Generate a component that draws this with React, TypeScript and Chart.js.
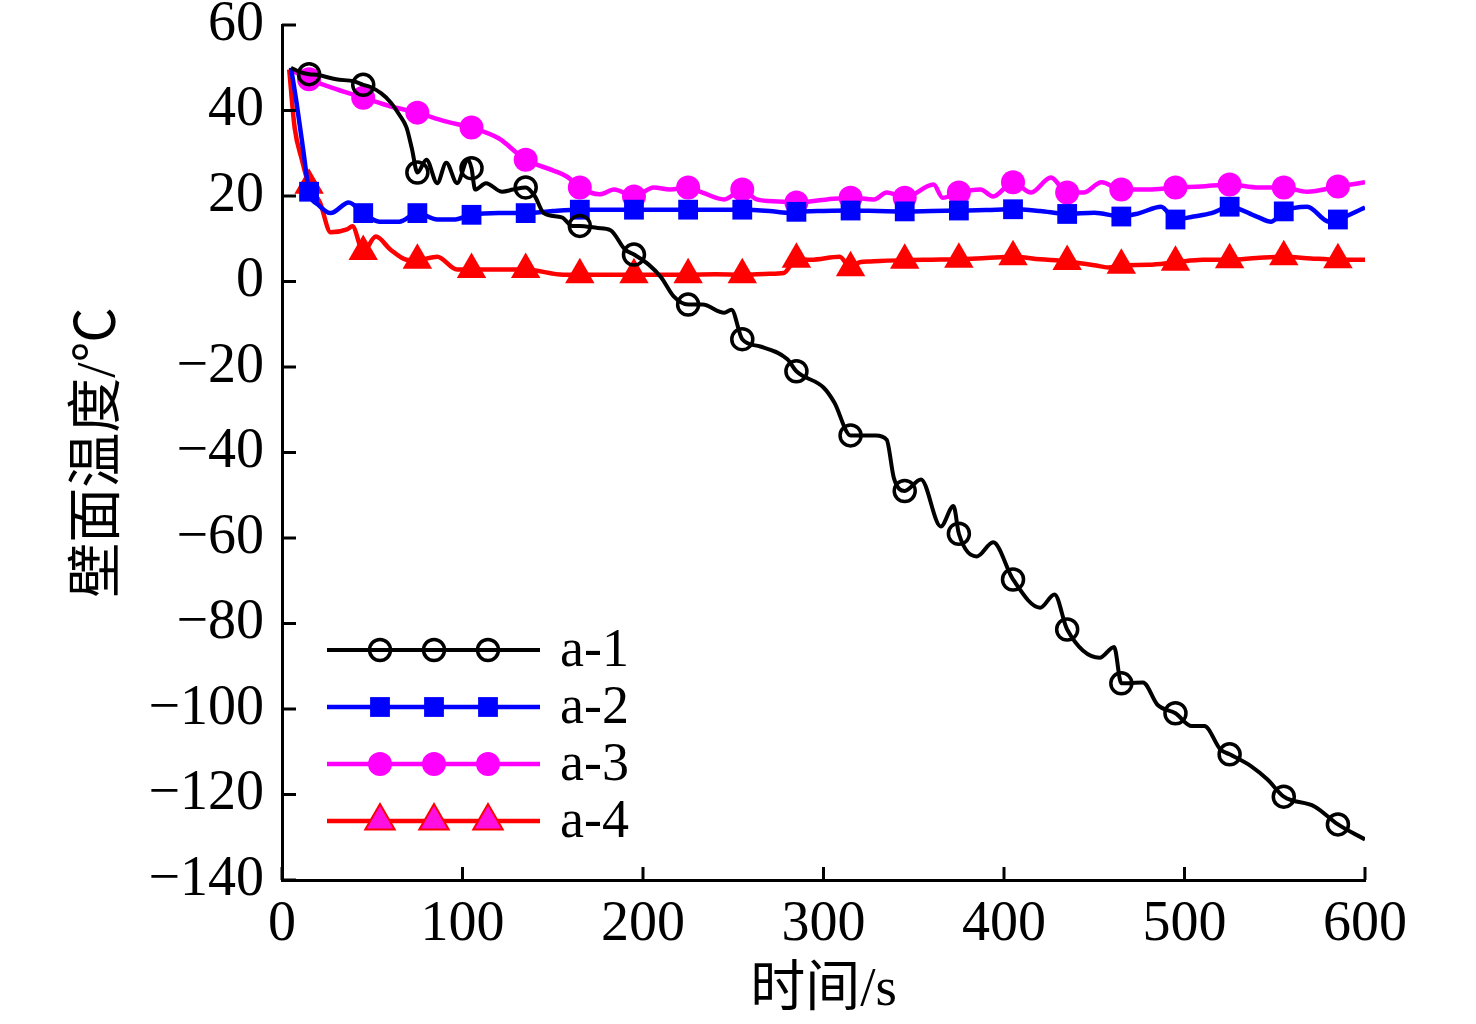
import React, { useEffect, useRef } from "react";
import { Chart, registerables } from "chart.js";

Chart.register(...registerables);

// ---------- data ----------
const SERIES_LABELS = ["a-1", "a-2", "a-3", "a-4"];
const X_TITLE = "时间/s";
const Y_TITLE = "壁面温度/℃";
const X_TICKS = [0, 100, 200, 300, 400, 500, 600];
const Y_TICKS = [60, 40, 20, 0, -20, -40, -60, -80, -100, -120, -140];
const MARKER_TIMES = [15, 45, 75, 105, 135, 165, 195, 225, 255, 285, 315, 345, 375, 405, 435, 465, 495, 525, 555, 585];

const A1_T = [5, 10, 15, 20, 30, 40, 45, 49, 55, 60, 65, 69, 72, 75, 80, 86, 91, 97, 103, 105, 107, 113, 122, 128, 135, 140, 145, 155, 161, 165, 175, 182, 190, 195, 203, 210, 217, 225, 233, 245, 249, 255, 265, 280, 285, 300, 306, 315, 329, 335, 339, 345, 354, 365, 372, 375, 385, 394, 405, 420, 428, 435, 453, 461, 465, 477, 485, 495, 504, 511, 520, 525, 537, 546, 555, 572, 585, 600];
const A1_V = [50, 49, 48.5, 48.3, 47.3, 46.8, 46, 45.5, 44, 42, 39, 36, 31, 25.5, 28.5, 23, 27.8, 23, 28.5, 26.5, 21.5, 23, 21, 21.5, 22, 20, 16, 15, 13, 13, 12.5, 12, 7.5, 6.3, 4, 1, -3.5, -5.4, -5.4, -7.3, -6.6, -13.5, -15.2, -18.2, -21, -24.8, -28.3, -36, -36, -37, -46, -49, -46.3, -57.3, -52.5, -59, -64.3, -61, -69.7, -76.3, -73.2, -81.4, -88, -85.5, -94, -93.8, -99, -101, -104, -104, -109.5, -110.6, -113.4, -116.5, -120.5, -122.8, -127, -130.5];

const A2_T = [5, 8, 12, 15, 20, 27, 37, 45, 54, 65, 75, 86, 95, 105, 120, 135, 150, 165, 180, 195, 210, 225, 240, 255, 270, 280, 285, 300, 315, 330, 345, 360, 375, 390, 405, 420, 435, 450, 465, 475, 487, 495, 505, 515, 525, 540, 548, 555, 568, 580, 585, 600];
const A2_V = [50, 42, 30, 21, 18, 16, 18.5, 16, 14, 14, 16, 14.5, 14.5, 15.6, 16, 16, 16.5, 16.8, 16.8, 16.8, 16.8, 16.8, 16.8, 16.8, 16.5, 16.1, 16.3, 16.5, 16.6, 16.5, 16.4, 16.5, 16.6, 16.7, 16.9, 16.5, 15.8, 16.1, 15.2, 16, 17.5, 14.5, 15.2, 16, 17.5, 15.2, 14, 16.4, 17.5, 14, 14.5, 17.3];

const A3_T = [5, 15, 30, 45, 60, 75, 90, 105, 120, 135, 150, 158, 165, 176, 184, 195, 206, 215, 225, 233, 245, 255, 263, 275, 285, 302, 315, 328, 335, 345, 361, 366, 375, 387, 394, 405, 415, 426, 435, 444, 454, 465, 480, 495, 509, 525, 541, 555, 568, 585, 600];
const A3_V = [49.5, 47.3, 45, 43, 41, 39.5, 37.5, 36, 33.5, 28.5, 26, 24.5, 22, 20.4, 21.5, 19.9, 22, 21.5, 22, 20.8, 19.2, 21.5, 19.2, 18.7, 18.5, 19.2, 19.6, 19.2, 20.8, 19.6, 22.7, 19.6, 20.8, 21.5, 19.9, 23.2, 20.8, 24.3, 20.8, 20.8, 23.2, 21.5, 21.5, 22, 22.2, 22.7, 22, 22, 21, 22.2, 23.2];

const A4_T = [4, 7, 11, 15, 21, 27, 36, 39, 45, 52, 60, 69, 75, 86, 97, 105, 119, 135, 156, 165, 180, 195, 210, 225, 240, 255, 270, 278, 283, 285, 293, 309, 315, 320, 326, 345, 360, 375, 390, 405, 420, 435, 450, 458, 465, 480, 495, 510, 525, 540, 555, 570, 585, 600];
const A4_V = [49.6, 36, 28.5, 22.5, 18.5, 11.5, 12.2, 12.9, 7, 10.5, 7.5, 5.1, 5, 5.8, 2.8, 2.8, 2.8, 2.8, 1.6, 1.6, 1.6, 1.6, 1.6, 1.6, 1.7, 1.6, 1.8, 2, 4.5, 5.2, 5.1, 5.8, 3.2, 4.5, 4.7, 5, 5.1, 5.2, 5.5, 5.8, 5.2, 4.7, 3.8, 3.3, 3.8, 3.9, 4.5, 5.1, 5.1, 5.5, 5.8, 5.4, 5.1, 5.1];

const SERIES_T = [A1_T, A2_T, A3_T, A4_T];
const SERIES_V = [A1_V, A2_V, A3_V, A4_V];

// ---------- styles ----------
const SERIES_STYLE = [
  { color: "#000000", lineWidth: 4, marker: "circle", radius: 10.5, fill: "rgba(0,0,0,0)", markerBorder: 3.5, legendFill: "rgba(0,0,0,0)" },
  { color: "#0000ff", lineWidth: 4.5, marker: "rect", radius: 14, fill: "#0000ff", markerBorder: 0, legendFill: "#0000ff" },
  { color: "#ff00ff", lineWidth: 4.5, marker: "circle", radius: 12, fill: "#ff00ff", markerBorder: 0, legendFill: "#ff00ff" },
  { color: "#ff0000", lineWidth: 4.5, marker: "triangle", radius: 17, fill: "#ff0000", markerBorder: 0, legendFill: "#ff10e0" },
];

const SERIF = "'Liberation Serif', 'Times New Roman', 'Noto Sans CJK SC', serif";

function drawMarker(ctx: CanvasRenderingContext2D, kind: string, x: number, y: number, r: number, fill: string, stroke: string, bw: number) {
  ctx.beginPath();
  if (kind === "circle") {
    ctx.arc(x, y, r, 0, Math.PI * 2);
  } else if (kind === "rect") {
    const s = Math.SQRT1_2 * r;
    ctx.rect(x - s, y - s, 2 * s, 2 * s);
  } else {
    ctx.moveTo(x, y - r);
    ctx.lineTo(x + 0.866 * r, y + 0.5 * r);
    ctx.lineTo(x - 0.866 * r, y + 0.5 * r);
    ctx.closePath();
  }
  ctx.fillStyle = fill;
  ctx.fill();
  if (bw > 0) {
    ctx.lineWidth = bw;
    ctx.strokeStyle = stroke;
    ctx.stroke();
  }
}

const innerTicks = {
  id: "innerTicks",
  afterDatasetsDraw(chart: any) {
    const { ctx, chartArea, scales } = chart;
    ctx.save();
    ctx.strokeStyle = "#000";
    ctx.lineWidth = 3;
    scales.x.ticks.forEach((t: any) => {
      const px = scales.x.getPixelForValue(t.value);
      ctx.beginPath();
      ctx.moveTo(px, chartArea.bottom);
      ctx.lineTo(px, chartArea.bottom - 13);
      ctx.stroke();
    });
    scales.y.ticks.forEach((t: any) => {
      const py = scales.y.getPixelForValue(t.value);
      ctx.beginPath();
      ctx.moveTo(chartArea.left, py);
      ctx.lineTo(chartArea.left + 14, py);
      ctx.stroke();
    });
    ctx.restore();
  },
};

const customLegend = {
  id: "customLegend",
  afterDatasetsDraw(chart: any) {
    const { ctx, chartArea } = chart;
    ctx.save();
    chart.data.datasets.forEach((ds: any, i: number) => {
      const st = SERIES_STYLE[i];
      const y = chartArea.bottom - 230 + i * 57;
      const x0 = chartArea.left + 45;
      const x1 = chartArea.left + 258;
      ctx.strokeStyle = st.color;
      ctx.lineWidth = st.lineWidth;
      ctx.beginPath();
      ctx.moveTo(x0, y);
      ctx.lineTo(x1, y);
      ctx.stroke();
      [53, 107, 161].forEach((dx) => {
        drawMarker(ctx, st.marker, x0 + dx, y, st.radius, st.legendFill, st.color, st.marker === "triangle" ? 2 : st.markerBorder);
      });
      ctx.fillStyle = "#000";
      ctx.font = `54px ${SERIF}`;
      ctx.textAlign = "left";
      ctx.textBaseline = "middle";
      ctx.fillText(ds.label, x1 + 20, y + 2);
    });
    ctx.restore();
  },
};

export default function App() {
  const ref = useRef<HTMLCanvasElement | null>(null);

  useEffect(() => {
    document.body.style.margin = "0";
    if (!ref.current) return;
    const datasets = SERIES_LABELS.map((label, i) => {
      const st = SERIES_STYLE[i];
      return {
        label,
        data: SERIES_T[i].map((t, j) => ({ x: t, y: SERIES_V[i][j] })),
        borderColor: st.color,
        borderWidth: st.lineWidth,
        backgroundColor: st.fill,
        pointStyle: st.marker,
        pointBackgroundColor: st.fill,
        pointBorderColor: st.color,
        pointBorderWidth: st.markerBorder,
        pointRadius: (c: any) => (c.raw && MARKER_TIMES.includes(c.raw.x) ? st.radius : 0),
        pointHoverRadius: 0,
        cubicInterpolationMode: "monotone" as const,
        fill: false,
      };
    });

    const chart = new Chart(ref.current, {
      type: "line",
      data: { datasets },
      options: {
        animation: false,
        responsive: false,
        devicePixelRatio: 1,
        events: [],
        layout: { padding: { left: 0, top: 25, right: 111, bottom: 0 } },
        plugins: { legend: { display: false }, tooltip: { enabled: false } },
        scales: {
          x: {
            type: "linear",
            min: 0,
            max: 600,
            afterFit: (s: any) => { s.height = 144; s.paddingLeft = 0; s.paddingRight = 0; },
            afterBuildTicks: (s: any) => { s.ticks = X_TICKS.map((v) => ({ value: v })); },
            grid: { display: false, drawTicks: false },
            border: { display: true, color: "#000", width: 3 },
            ticks: {
              autoSkip: false,
              maxRotation: 0,
              padding: 12,
              color: "#000",
              font: { family: SERIF, size: 56 },
            },
            title: {
              display: true,
              text: X_TITLE,
              color: "#000",
              font: { family: SERIF, size: 55 },
              padding: { top: 0, bottom: 0 },
            },
          },
          y: {
            type: "linear",
            min: -140,
            max: 60,
            afterFit: (s: any) => { s.width = 282; s.paddingTop = 0; s.paddingBottom = 0; },
            afterBuildTicks: (s: any) => { s.ticks = Y_TICKS.map((v) => ({ value: v })); },
            grid: { display: false, drawTicks: false },
            border: { display: true, color: "#000", width: 3 },
            ticks: {
              autoSkip: false,
              padding: 18,
              color: "#000",
              font: { family: SERIF, size: 56 },
              callback: (v: any) => (Number(v) < 0 ? "\u2212" + Math.abs(Number(v)) : String(v)),
            },
            title: {
              display: true,
              text: Y_TITLE,
              color: "#000",
              font: { family: SERIF, size: 55 },
              padding: { top: 67, bottom: 0 },
            },
          },
        },
      },
      plugins: [innerTicks, customLegend],
    });
    return () => chart.destroy();
  }, []);

  return (
    <div style={{ position: "absolute", left: 0, top: 0, width: 1476, height: 1024, background: "#fff" }}>
      <canvas ref={ref} width={1476} height={1024} style={{ width: 1476, height: 1024, display: "block" }} />
    </div>
  );
}
